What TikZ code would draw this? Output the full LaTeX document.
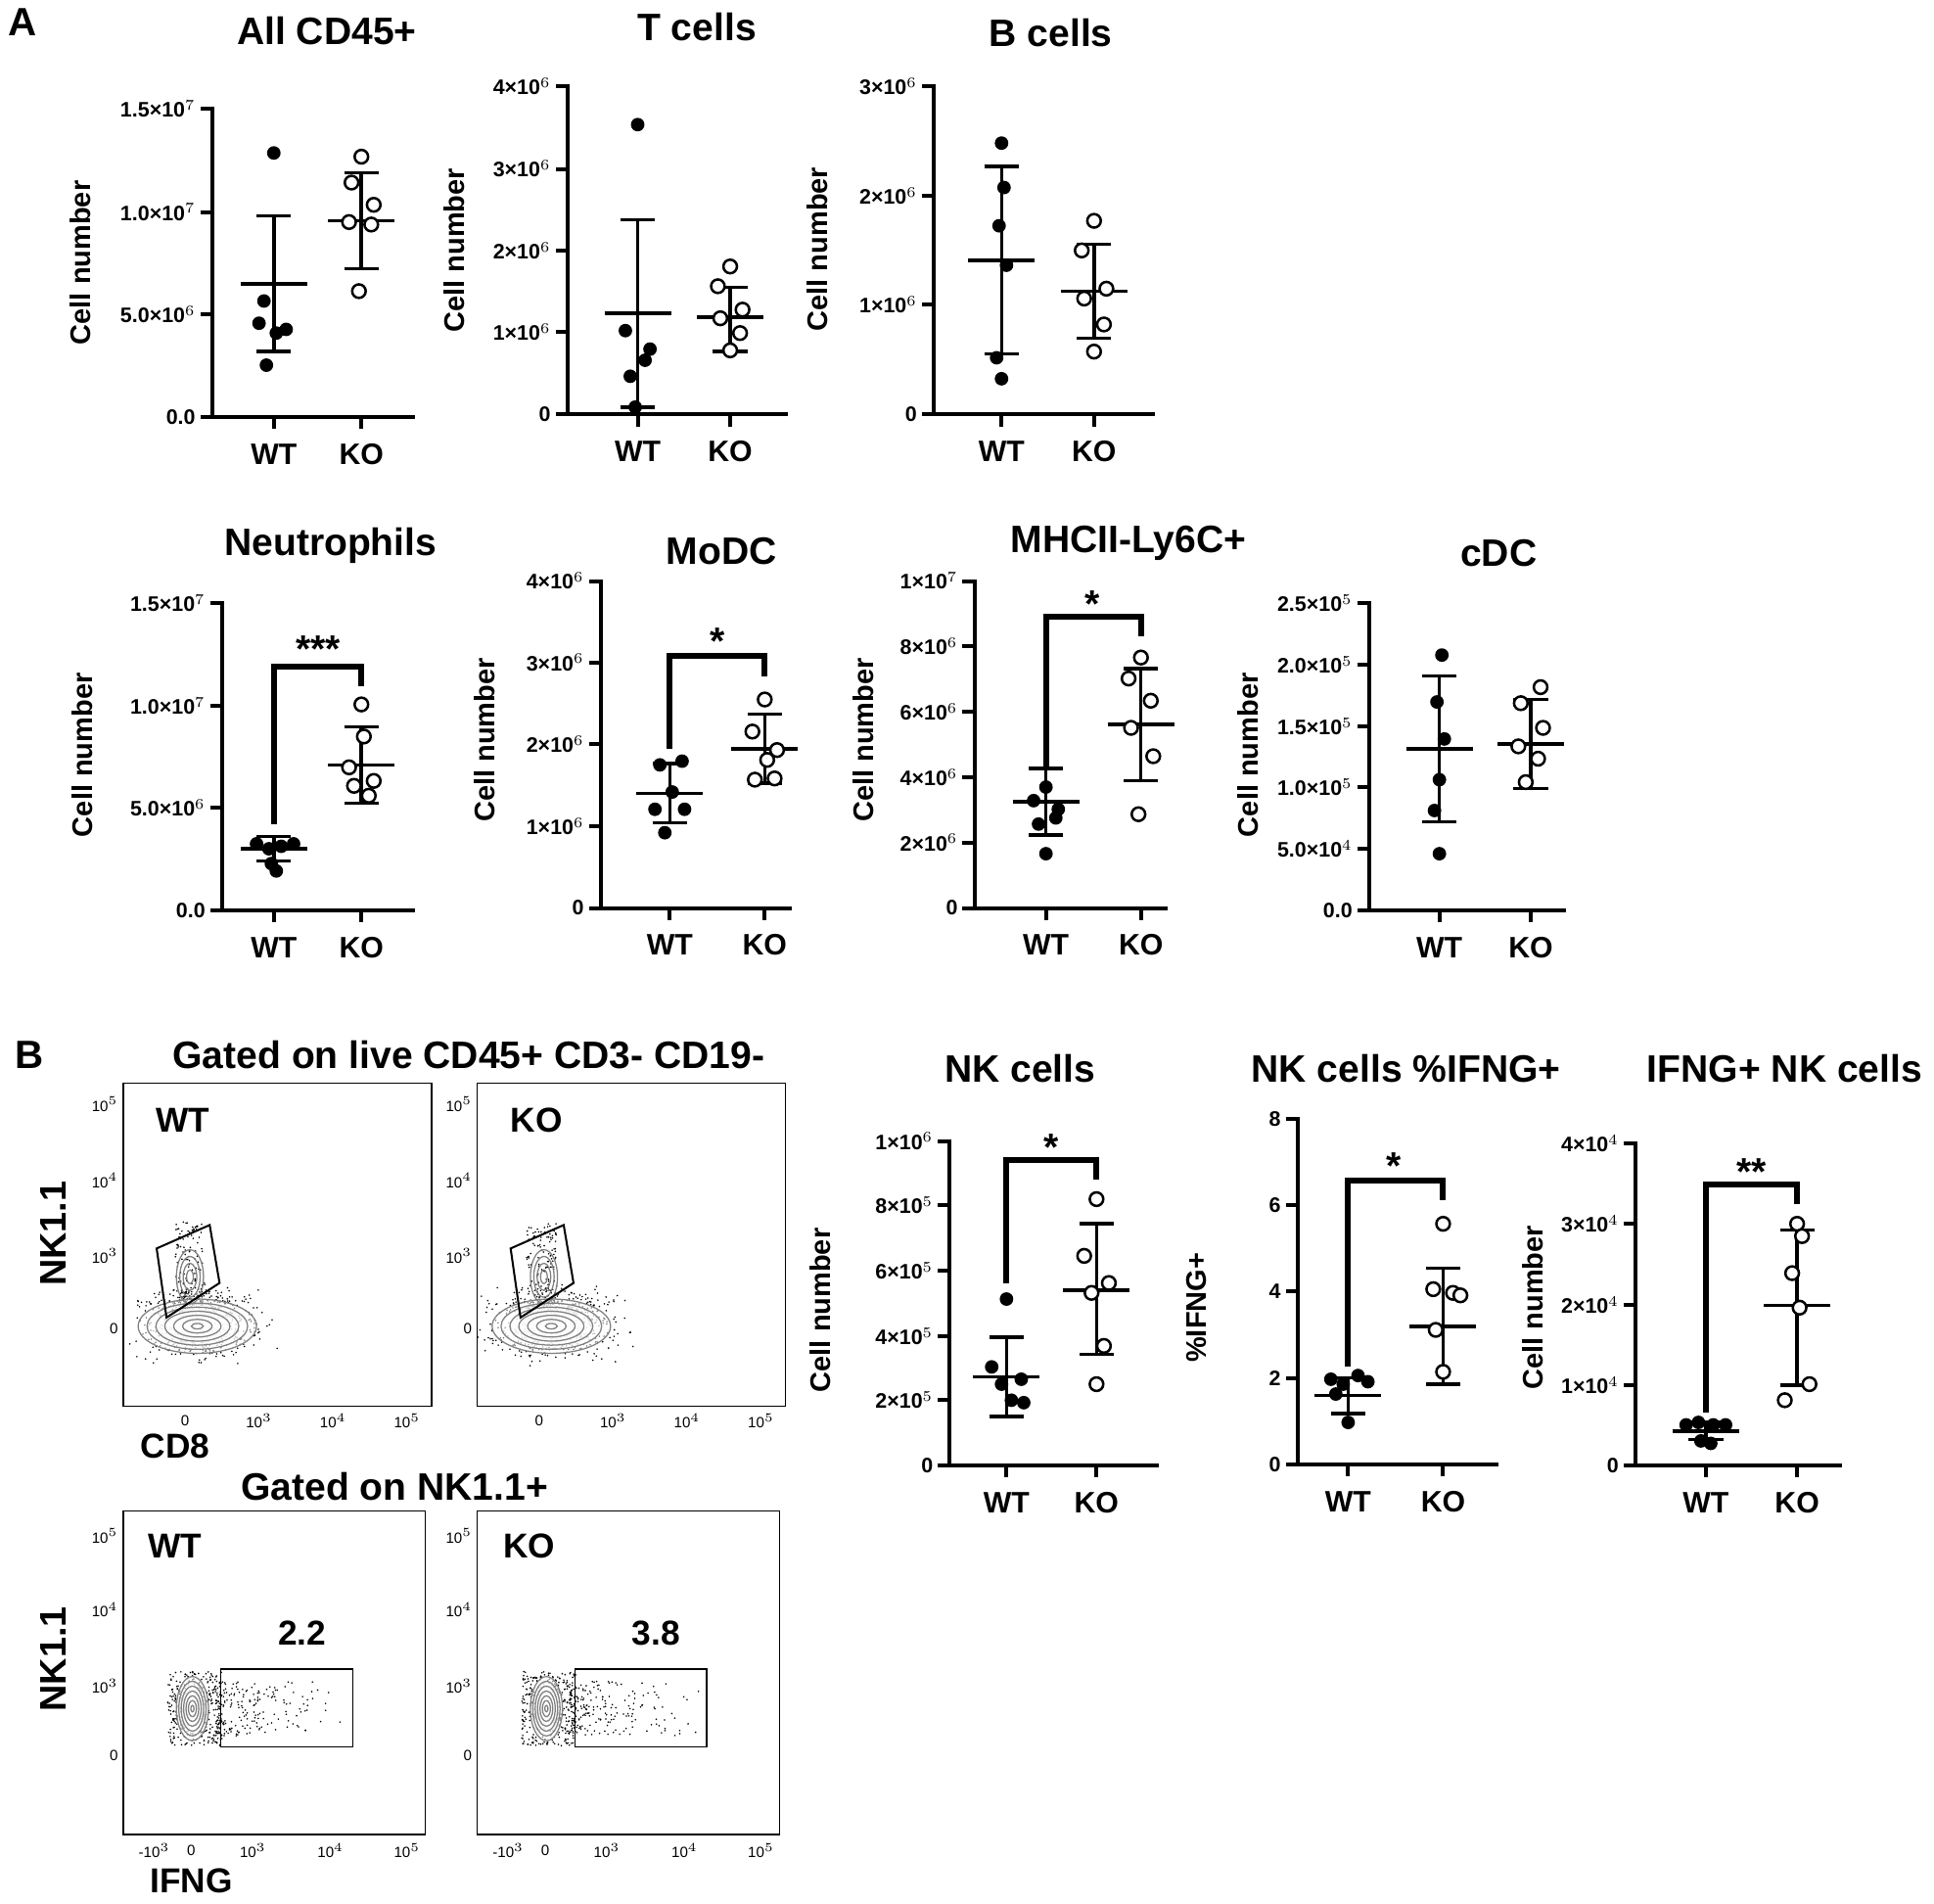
\documentclass[tikz,border=0pt]{standalone}
\usepackage{fontspec}
\setmainfont{Liberation Sans}
\begin{document}
\tikzset{
  axis/.style={line width=1.6pt, line cap=rect},
  ttl/.style={font=\bfseries\fontsize{15.5}{17}\selectfont},
  grp/.style={font=\bfseries\fontsize{12}{13}\selectfont},
  tick/.style={font=\bfseries\fontsize{8.5}{9}\selectfont, left, inner sep=2pt},
  ylab/.style={font=\bfseries\fontsize{11.5}{12}\selectfont, rotate=90},
  wtdot/.style={circle, fill=black, inner sep=0pt, minimum size=5.5pt},
  kodot/.style={circle, draw=black, line width=1pt, fill=white, inner sep=0pt, minimum size=5.5pt},
  facs/.style={line width=0.5pt},
  flab/.style={font=\fontsize{6}{7}\selectfont, inner sep=1pt},
}
% axes: x of y-axis, top, bottom (zero), right end, WT x, KO x
\newcommand\axes[6]{%
  \draw[axis] (#1,#2) -- (#1,#3) -- (#4,#3);
  \draw[axis] (#5,#3) -- ++(0,8) (#6,#3) -- ++(0,8);
  \node[grp] at (#5,#3+30) {WT};
  \node[grp] at (#6,#3+30) {KO};
}
% errbar: x, mean, low, high
\newcommand\errbar[4]{%
  \draw[line width=1.4pt] (#1-27,#2) -- (#1+27,#2) (#1,#3) -- (#1,#4)
    (#1-14,#3) -- (#1+14,#3) (#1-14,#4) -- (#1+14,#4);
}
% bracket: WT x, KO x, WT start, top, KO end
\newcommand\brk[5]{%
  \draw[line width=2.4pt] (#1,#3) -- (#1,#4) -- (#2,#4) -- (#2,#5);
}
\begin{tikzpicture}[x=0.5pt, y=-0.5pt]
\useasboundingbox (0,0) rectangle (1568,1543);
\node[font=\bfseries\fontsize{16}{18}\selectfont] at (18,18) {A};
\node[font=\bfseries\fontsize{16}{18}\selectfont] at (24,855) {B};

% All CD45+
\node[ttl] at (265,25) {All CD45+};
\node[ylab] at (65,213) {Cell number};
\axes{172}{88}{338}{335}{222}{293}
\foreach \y/\t in {338/0.0, 255/5.0{\texttimes}10$^6$, 172/1.0{\texttimes}10$^7$, 88/1.5{\texttimes}10$^7$}
  \draw[axis] (172,\y) -- ++(-8,0) node[tick] {\t};
\errbar{222}{230}{285}{175}
\errbar{293}{179}{218}{140}
\foreach \dx/\y in {0/124,-8/244,10/267,-12/262,2/270,-6/296}
  \node[wtdot] at (222+\dx,\y) {};
\foreach \dx/\y in {0/127,-8/148,10/166,-10/180,8/182,-2/236}
  \node[kodot] at (293+\dx,\y) {};

% T cells
\node[ttl] at (565,22) {T cells};
\node[ylab] at (368,203) {Cell number};
\axes{460}{70}{336}{637}{517}{592}
\foreach \y/\t in {336/0, 269/1{\texttimes}10$^6$, 203/2{\texttimes}10$^6$, 137/3{\texttimes}10$^6$, 70/4{\texttimes}10$^6$}
  \draw[axis] (460,\y) -- ++(-8,0) node[tick] {\t};
\errbar{517}{254}{330}{178}
\errbar{592}{257}{285}{233}
\foreach \dx/\y in {0/101,-10/268,10/283,-6/305,6/292,-2/330}
  \node[wtdot] at (517+\dx,\y) {};
\foreach \dx/\y in {0/216,-10/232,10/251,-8/258,8/270,0/284}
  \node[kodot] at (592+\dx,\y) {};

% B cells
\node[ttl] at (852,27) {B cells};
\node[ylab] at (663,202) {Cell number};
\axes{757}{70}{336}{935}{812}{887}
\foreach \y/\t in {336/0, 247/1{\texttimes}10$^6$, 159/2{\texttimes}10$^6$, 70/3{\texttimes}10$^6$}
  \draw[axis] (757,\y) -- ++(-8,0) node[tick] {\t};
\errbar{812}{211}{287}{135}
\errbar{887}{236}{274}{198}
\foreach \dx/\y in {0/116,2/152,-2/183,4/215,-4/290,0/307}
  \node[wtdot] at (812+\dx,\y) {};
\foreach \dx/\y in {0/179,-10/203,10/234,-8/242,8/263,0/285}
  \node[kodot] at (887+\dx,\y) {};

% Neutrophils
\node[ttl] at (268,442) {Neutrophils};
\node[ylab] at (67,612) {Cell number};
\axes{180}{489}{738}{335}{222}{293}
\foreach \y/\t in {738/0.0, 655/5.0{\texttimes}10$^6$, 572/1.0{\texttimes}10$^7$, 489/1.5{\texttimes}10$^7$}
  \draw[axis] (180,\y) -- ++(-8,0) node[tick] {\t};
\errbar{222}{688}{698}{678}
\errbar{293}{620}{651}{589}
\foreach \dx/\y in {-14/684,-4/688,6/686,16/684,-2/700,2/706}
  \node[wtdot] at (222+\dx,\y) {};
\foreach \dx/\y in {0/571,2/597,-10/622,10/633,-6/637,6/645}
  \node[kodot] at (293+\dx,\y) {};
\brk{222}{293}{668}{540}{556}
\node[ttl] at (258,526) {***};

% MoDC
\node[ttl] at (585,447) {MoDC};
\node[ylab] at (393,600) {Cell number};
\axes{487}{471}{736}{640}{543}{620}
\foreach \y/\t in {736/0, 670/1{\texttimes}10$^6$, 603/2{\texttimes}10$^6$, 537/3{\texttimes}10$^6$, 471/4{\texttimes}10$^6$}
  \draw[axis] (487,\y) -- ++(-8,0) node[tick] {\t};
\errbar{543}{643}{667}{619}
\errbar{620}{607}{635}{579}
\foreach \dx/\y in {10/617,-8/620,2/642,-12/656,12/656,-4/675}
  \node[wtdot] at (543+\dx,\y) {};
\foreach \dx/\y in {0/567,-10/593,10/608,-8/632,8/631,2/616}
  \node[kodot] at (620+\dx,\y) {};
\brk{543}{620}{607}{532}{548}
\node[ttl] at (582,520) {*};

% MHCII-Ly6C+
\node[ttl] at (915,440) {MHCII-Ly6C+};
\node[ylab] at (700,600) {Cell number};
\axes{790}{471}{736}{945}{848}{925}
\foreach \y/\t in {736/0, 683/2{\texttimes}10$^6$, 630/4{\texttimes}10$^6$, 577/6{\texttimes}10$^6$, 524/8{\texttimes}10$^6$, 471/1{\texttimes}10$^7$}
  \draw[axis] (790,\y) -- ++(-8,0) node[tick] {\t};
\errbar{848}{650}{677}{623}
\errbar{925}{587}{633}{542}
\foreach \dx/\y in {0/638,-10/649,10/656,-6/668,8/663,0/692}
  \node[wtdot] at (848+\dx,\y) {};
\foreach \dx/\y in {0/533,-10/550,8/568,-8/590,10/613,-2/660}
  \node[kodot] at (925+\dx,\y) {};
\brk{848}{925}{622}{500}{516}
\node[ttl] at (886,490) {*};

% cDC
\node[ttl] at (1215,448) {cDC};
\node[ylab] at (1012,612) {Cell number};
\axes{1110}{489}{738}{1268}{1167}{1241}
\foreach \y/\t in {738/0.0, 688/5.0{\texttimes}10$^4$, 638/1.0{\texttimes}10$^5$, 589/1.5{\texttimes}10$^5$, 539/2.0{\texttimes}10$^5$, 489/2.5{\texttimes}10$^5$}
  \draw[axis] (1110,\y) -- ++(-8,0) node[tick] {\t};
\errbar{1167}{607}{666}{548}
\errbar{1241}{603}{639}{567}
\foreach \dx/\y in {2/531,-2/569,4/599,0/632,-4/657,0/692}
  \node[wtdot] at (1167+\dx,\y) {};
\foreach \dx/\y in {8/557,-8/570,10/590,-10/605,6/615,-4/634}
  \node[kodot] at (1241+\dx,\y) {};

% NK cells
\node[ttl] at (827,866) {NK cells};
\node[ylab] at (665,1062) {Cell number};
\axes{770}{925}{1188}{938}{816}{889}
\foreach \y/\t in {1188/0, 1135/2{\texttimes}10$^5$, 1083/4{\texttimes}10$^5$, 1030/6{\texttimes}10$^5$, 977/8{\texttimes}10$^5$, 925/1{\texttimes}10$^6$}
  \draw[axis] (770,\y) -- ++(-8,0) node[tick] {\t};
\errbar{816}{1116}{1148}{1084}
\errbar{889}{1046}{1098}{992}
\foreach \dx/\y in {0/1053,-12/1108,12/1118,-4/1122,4/1135,14/1137}
  \node[wtdot] at (816+\dx,\y) {};
\foreach \dx/\y in {0/972,-10/1018,10/1040,-4/1048,6/1091,0/1122}
  \node[kodot] at (889+\dx,\y) {};
\brk{816}{889}{1040}{940}{956}
\node[ttl] at (852,930) {*};

% NK cells %IFNG+
\node[ttl] at (1140,866) {NK cells \%IFNG+};
\node[ylab] at (970,1060) {\%IFNG+};
\axes{1052}{907}{1187}{1213}{1093}{1170}
\foreach \y/\t in {1187/0, 1117/2, 1047/4, 977/6, 907/8}
  \draw[axis] (1052,\y) -- ++(-8,0) node[tick] {\t};
\errbar{1093}{1131}{1146}{1117}
\errbar{1170}{1075}{1122}{1028}
\foreach \dx/\y in {-14/1118,-4/1122,8/1115,16/1120,-10/1130,0/1153}
  \node[wtdot] at (1093+\dx,\y) {};
\foreach \dx/\y in {0/992,-8/1045,8/1048,14/1050,-6/1078,0/1112}
  \node[kodot] at (1170+\dx,\y) {};
\brk{1093}{1170}{1108}{957}{973}
\node[ttl] at (1130,945) {*};

% IFNG+ NK cells
\node[ttl] at (1447,866) {IFNG+ NK cells};
\node[ylab] at (1243,1060) {Cell number};
\axes{1326}{927}{1188}{1492}{1383}{1457}
\foreach \y/\t in {1188/0, 1123/1{\texttimes}10$^4$, 1058/2{\texttimes}10$^4$, 992/3{\texttimes}10$^4$, 927/4{\texttimes}10$^4$}
  \draw[axis] (1326,\y) -- ++(-8,0) node[tick] {\t};
\errbar{1383}{1160}{1167}{1153}
\errbar{1457}{1058}{1123}{997}
\foreach \dx/\y in {-16/1155,-6/1153,6/1155,16/1155,-4/1168,4/1170}
  \node[wtdot] at (1383+\dx,\y) {};
\foreach \dx/\y in {0/992,4/1002,-4/1032,2/1060,10/1122,-10/1135}
  \node[kodot] at (1457+\dx,\y) {};
\brk{1383}{1457}{1145}{960}{976}
\node[ttl] at (1420,950) {**};

% flow panels, top row
\node[ttl] at (380,855) {Gated on live CD45+ CD3- CD19-};
\node[font=\bfseries\fontsize{15}{16}\selectfont, rotate=90] at (43,1000) {NK1.1};
\node[grp, font=\bfseries\fontsize{14}{15}\selectfont] at (142,1172) {CD8};
\pgfmathsetseed{7}
\foreach \ox/\lab in {100/WT, 387/KO} {
  \draw[facs] (\ox,878) rectangle (\ox+250,1140);
  \node[grp, font=\bfseries\fontsize{14}{15}\selectfont] at (\ox+48,908) {\lab};
  \foreach \y/\t in {895/10$^5$, 957/10$^4$, 1018/10$^3$, 1077/0}
    \node[flab, left] at (\ox-2,\y) {\t};
  \foreach \x/\t in {50/0, 110/10$^3$, 170/10$^4$, 230/10$^5$}
    \node[flab] at (\ox+\x,1152) {\t};
  \begin{scope}
    \clip (\ox,878) rectangle (\ox+250,1140);
    \foreach \i in {1,...,700}
      \fill ({\ox+62+60*rand*abs(rand)+20*rand}, {1072+22*rand+18*rand*abs(rand)}) circle (0.7);
    \foreach \i in {1,...,120}
      \fill ({\ox+52+12*rand}, {1025+35*rand}) circle (0.7);
    \foreach \r in {1,0.85,...,0.1}
      \draw[gray, line width=0.5pt, fill=white, fill opacity=0.5] (\ox+60,1075) ellipse ({48*\r} and {22*\r});
    \foreach \r in {1,0.75,0.5,0.25}
      \draw[gray, line width=0.5pt] (\ox+54,1035) ellipse ({11*\r} and {22*\r});
  \end{scope}
  \draw[line width=0.8pt] (\ox+27,1012) -- (\ox+70,993) -- (\ox+78,1040) -- (\ox+35,1068) -- cycle;
}

% flow panels, bottom row
\node[ttl] at (320,1205) {Gated on NK1.1+};
\node[font=\bfseries\fontsize{15}{16}\selectfont, rotate=90] at (43,1345) {NK1.1};
\node[grp, font=\bfseries\fontsize{14}{15}\selectfont] at (155,1525) {IFNG};
\foreach \ox/\lab/\pct in {100/WT/2.2, 387/KO/3.8} {
  \draw[facs] (\ox,1225) rectangle (\ox+245,1487);
  \node[grp, font=\bfseries\fontsize{14}{15}\selectfont] at (\ox+42,1253) {\lab};
  \node[grp, font=\bfseries\fontsize{14}{15}\selectfont] at (\ox+145,1324) {\pct};
  \foreach \y/\t in {1245/10$^5$, 1305/10$^4$, 1367/10$^3$, 1423/0}
    \node[flab, left] at (\ox-2,\y) {\t};
  \foreach \x/\t in {25/-10$^3$, 55/0, 105/10$^3$, 168/10$^4$, 230/10$^5$}
    \node[flab] at (\ox+\x,1500) {\t};
  \begin{scope}
    \clip (\ox,1225) rectangle (\ox+245,1487);
    \foreach \i in {1,...,350}
      \fill ({\ox+58+22*rand}, {1385+30*rand}) circle (0.7);
    \foreach \i in {1,...,200}
      \fill ({\ox+75+110*abs(rand)*abs(rand)}, {1385+22*rand}) circle (0.7);
    \foreach \r in {1,0.85,...,0.1}
      \draw[gray, line width=0.5pt, fill=white, fill opacity=0.5] (\ox+56,1385) ellipse ({13*\r} and {26*\r});
  \end{scope}
  \draw[line width=0.6pt] (\ox+79,1353) rectangle (\ox+186,1416);
}
\end{tikzpicture}
\end{document}
